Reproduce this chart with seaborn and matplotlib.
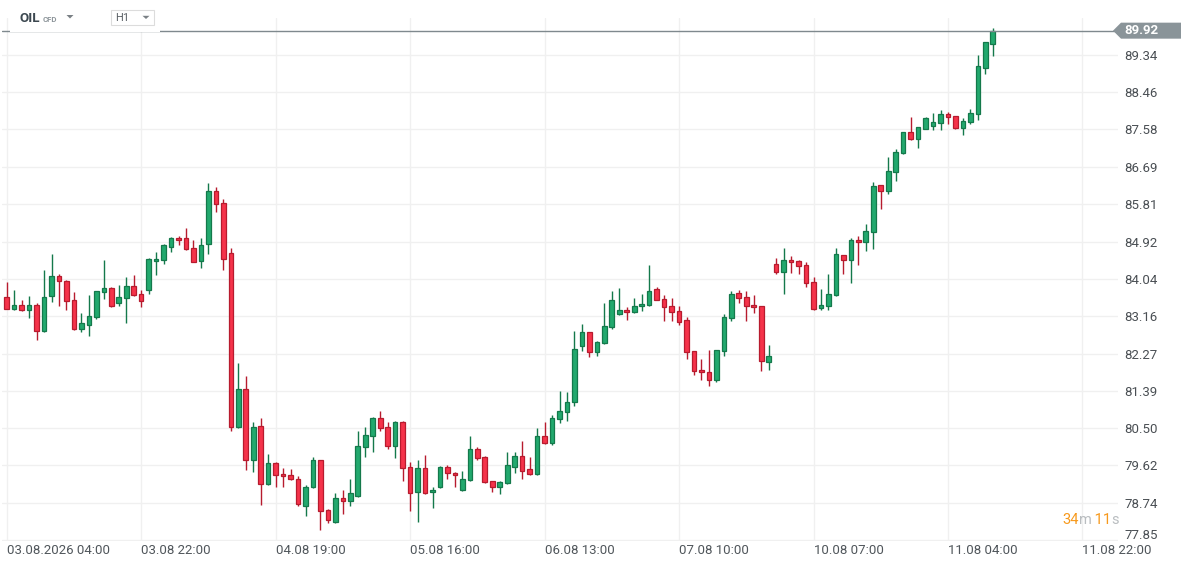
import numpy as np
import pandas as pd
import matplotlib
matplotlib.use("Agg")
import matplotlib.pyplot as plt
from matplotlib.patches import Polygon, Rectangle
from matplotlib.transforms import IdentityTransform
import seaborn as sns

# hourly OHLC bars, OIL CFD (H1)
OPEN = [83.60, 83.33, 83.41, 83.30, 83.41, 82.80, 83.63, 84.10, 84.00, 83.53,
        82.85, 82.94, 83.13, 83.72, 83.82, 83.46, 83.58, 83.86, 83.68, 83.77,
        84.46, 84.48, 84.79, 85.00, 85.00, 84.77, 84.46, 84.86, 86.12, 85.83,
        84.65, 80.52, 81.42, 79.76, 80.55, 79.17, 79.67, 79.41, 79.39, 79.31,
        78.67, 79.10, 79.74, 78.56, 78.29, 78.86, 78.77, 78.90, 80.05, 80.31,
        80.74, 80.52, 80.07, 80.66, 79.58, 78.98, 79.55, 78.98, 79.12, 79.58,
        79.43, 79.03, 79.27, 80.00, 79.81, 79.24, 79.10, 79.20, 79.58, 79.84,
        79.53, 79.41, 80.31, 80.14, 80.71, 80.88, 81.12, 82.44, 82.77, 82.30,
        82.51, 82.89, 83.20, 83.30, 83.25, 83.39, 83.41, 83.79, 83.56, 83.39,
        83.27, 83.06, 82.32, 81.87, 81.83, 81.64, 82.32, 83.11, 83.70, 83.60,
        83.41, 83.39, 82.06, 84.39, 84.20, 84.48, 84.46, 84.36, 83.96, 83.34,
        83.39, 83.65, 84.60, 84.48, 84.96, 84.91, 85.14, 86.26, 86.12, 86.57,
        87.02, 87.51, 87.35, 87.59, 87.66, 87.73, 87.94, 87.89, 87.61, 87.75,
        87.94, 89.03, 89.60]
HIGH = [83.97, 83.78, 83.54, 83.63, 83.46, 84.25, 84.63, 84.16, 84.01, 83.73,
        83.22, 83.65, 83.76, 84.49, 83.84, 83.89, 84.08, 84.13, 83.77, 84.53,
        84.67, 84.86, 85.03, 85.05, 85.24, 84.96, 85.00, 86.31, 86.21, 85.93,
        84.77, 82.04, 81.74, 80.65, 80.74, 79.88, 79.69, 79.55, 79.53, 79.36,
        79.15, 79.81, 79.76, 78.58, 78.96, 79.03, 79.31, 80.44, 80.52, 80.76,
        80.91, 80.64, 80.67, 80.67, 79.69, 79.76, 79.86, 79.10, 79.60, 79.62,
        79.46, 79.48, 80.31, 80.05, 79.84, 79.25, 79.24, 79.93, 79.93, 80.19,
        79.81, 80.50, 80.64, 80.81, 81.38, 81.35, 82.81, 82.96, 82.78, 82.56,
        83.46, 83.75, 83.82, 83.37, 83.58, 83.68, 84.36, 83.84, 83.65, 83.58,
        83.39, 83.13, 82.33, 82.14, 82.35, 82.36, 83.20, 83.75, 83.77, 83.75,
        83.65, 83.40, 82.47, 84.53, 84.77, 84.58, 84.48, 84.43, 84.08, 83.79,
        84.15, 84.77, 84.61, 85.00, 85.05, 85.33, 86.33, 86.27, 86.92, 87.11,
        87.52, 87.87, 87.64, 87.87, 87.97, 88.04, 87.99, 87.90, 87.85, 88.06,
        89.34, 89.66, 89.98]
LOW = [83.32, 83.30, 83.29, 83.12, 82.60, 82.78, 83.49, 83.40, 83.31, 82.84,
       82.77, 82.69, 83.10, 83.56, 83.38, 83.40, 83.00, 83.64, 83.37, 83.69,
       84.12, 84.39, 84.67, 84.84, 84.73, 84.43, 84.29, 84.62, 85.63, 84.24,
       80.44, 80.51, 79.52, 79.47, 78.69, 79.16, 79.10, 79.10, 79.28, 78.67,
       78.43, 79.09, 78.10, 78.25, 78.26, 78.48, 78.67, 78.88, 79.81, 79.95,
       80.43, 80.00, 79.79, 79.24, 78.53, 78.29, 78.94, 78.60, 79.08, 79.29,
       79.12, 79.01, 79.26, 79.76, 79.21, 78.98, 78.94, 79.19, 79.43, 79.29,
       79.39, 79.40, 80.13, 80.10, 80.62, 80.67, 81.04, 82.34, 82.18, 82.21,
       82.50, 82.85, 83.18, 83.06, 83.24, 83.27, 83.39, 83.53, 83.04, 83.04,
       82.94, 82.14, 81.76, 81.64, 81.50, 81.59, 82.21, 83.04, 83.46, 83.04,
       83.22, 81.85, 81.87, 84.15, 83.68, 84.17, 84.15, 83.84, 83.31, 83.31,
       83.31, 83.64, 84.15, 83.94, 84.36, 84.69, 84.74, 85.69, 86.05, 86.35,
       86.99, 87.34, 87.14, 87.58, 87.56, 87.56, 87.70, 87.60, 87.44, 87.70,
       87.80, 88.89, 89.32]
CLOSE = [83.33, 83.41, 83.30, 83.41, 82.80, 83.60, 84.10, 83.98, 83.51, 82.85,
         82.99, 83.15, 83.75, 83.82, 83.39, 83.60, 83.86, 83.65, 83.51, 84.50,
         84.50, 84.84, 85.00, 84.96, 84.74, 84.43, 84.84, 86.12, 85.81, 84.50,
         80.52, 81.42, 79.74, 80.52, 79.17, 79.67, 79.39, 79.36, 79.29, 78.71,
         79.12, 79.74, 78.53, 78.32, 78.86, 78.77, 78.96, 80.07, 80.33, 80.74,
         80.50, 80.07, 80.66, 79.55, 78.96, 79.55, 78.96, 79.03, 79.58, 79.43,
         79.39, 79.29, 80.00, 79.79, 79.22, 79.10, 79.22, 79.62, 79.84, 79.50,
         79.41, 80.31, 80.14, 80.74, 80.90, 81.12, 82.37, 82.77, 82.30, 82.54,
         82.92, 83.53, 83.30, 83.25, 83.39, 83.44, 83.75, 83.53, 83.37, 83.25,
         83.01, 82.30, 81.85, 81.83, 81.64, 82.35, 83.13, 83.68, 83.58, 83.39,
         83.37, 82.09, 82.21, 84.20, 84.48, 84.43, 84.34, 83.94, 83.32, 83.41,
         83.68, 84.62, 84.48, 84.96, 84.91, 85.17, 86.23, 86.12, 86.59, 87.04,
         87.51, 87.35, 87.63, 87.85, 87.75, 87.94, 87.87, 87.61, 87.78, 87.97,
         89.08, 89.65, 89.92]

TIME_LABELS = ["03.08.2026 04:00", "03.08 22:00", "04.08 19:00", "05.08 16:00",
               "06.08 13:00", "07.08 10:00", "10.08 07:00", "11.08 04:00",
               "11.08 22:00"]
PRICE_TICKS = [89.34, 88.46, 87.58, 86.69, 85.81, 84.92, 84.04, 83.16,
               82.27, 81.39, 80.50, 79.62, 78.74, 77.85]
LAST_PRICE = 89.92
SYMBOL = "OIL"
SYMBOL_TYPE = "CFD"
TIMEFRAME = "H1"
COUNTDOWN = [("34", "orange"), ("m", "gray"), (" 11", "orange"), ("s", "gray")]

BARS_PER_LABEL = 18
W, H = 1184, 565

UP_FILL, UP_EDGE = "#22a96e", "#14794b"
DN_FILL, DN_EDGE = "#f5334a", "#b71b2e"
TEXT = "#4a4f54"

sns.set_theme(style="white")
plt.rcParams["font.family"] = ["Roboto", "DejaVu Sans"]

df = pd.DataFrame({"open": OPEN, "high": HIGH, "low": LOW, "close": CLOSE})
df["bar"] = np.arange(len(df))
df["up"] = df["close"] >= df["open"]


def px(x, y):
    # pixel position (from top-left) -> figure fraction
    return x / W, 1 - y / H


fig = plt.figure(figsize=(W / 100, H / 100), dpi=100)
fig.patch.set_facecolor("white")
ax = fig.add_axes([2 / W, 1 - 541 / H, (1118 - 2) / W, (541 - 18) / H])

edge = np.where(df["up"], UP_EDGE, DN_EDGE)
fill = np.where(df["up"], UP_FILL, DN_FILL)
ax.vlines(df["bar"], df["low"], df["high"], colors=edge, linewidth=1.0, zorder=2)
bottom = df[["open", "close"]].min(axis=1)
height = (df["close"] - df["open"]).abs().clip(lower=0.04)
ax.bar(df["bar"], height, bottom=bottom, width=0.62, color=fill,
       edgecolor=edge, linewidth=0.9, zorder=3)

ax.set_xlim(-0.63, 148.76)
ax.set_ylim(77.83, 90.22)

ax.set_xticks(np.arange(len(TIME_LABELS)) * BARS_PER_LABEL)
ax.set_xticklabels(TIME_LABELS, ha="left")
ax.set_yticks(PRICE_TICKS)
ax.set_yticklabels([f"{v:.2f}" for v in PRICE_TICKS[:-1]] + [""])
ax.yaxis.tick_right()
ax.tick_params(axis="x", length=0, pad=2, labelsize=9.5, labelcolor="#50565b")
ax.tick_params(axis="y", length=0, pad=4.5, labelsize=9.5, labelcolor=TEXT)
ax.grid(True, color="#f0f0f0", linewidth=1)
ax.set_axisbelow(True)
for s in ax.spines.values():
    s.set_visible(False)
ax.set_xlabel("")
ax.set_ylabel("")

# lowest price label sits a little above its grid line
ax.annotate(f"{PRICE_TICKS[-1]:.2f}", xy=(1.0, PRICE_TICKS[-1]),
            xycoords=("axes fraction", "data"), xytext=(4.5, 3),
            textcoords="offset points", ha="left", va="center",
            fontsize=9.5, color=TEXT, annotation_clip=False)

# last price line and tag
ax.axhline(LAST_PRICE, color="#7f898e", linewidth=1, zorder=4)
fig.canvas.draw()
yd = ax.transData.transform((0, LAST_PRICE))[1]
tag = Polygon([(1113, yd), (1121, yd + 8), (1181, yd + 8), (1181, yd - 8),
               (1121, yd - 8)], closed=True, facecolor="#8a9499",
              edgecolor="none", transform=IdentityTransform(), zorder=6)
fig.patches.append(tag)
fig.text(1124 / W, yd / H, f"{LAST_PRICE:.2f}", color="white", fontsize=9.5,
         fontweight="bold", va="center", ha="left", zorder=7)

# header
fig.patches.append(Rectangle(px(10, 32), 150 / W, 32 / H, transform=fig.transFigure,
                             facecolor="white", edgecolor="none", zorder=5))
fig.text(*px(20, 18.5), SYMBOL, fontsize=9.6, fontweight="bold", color="#3c4850",
         va="center", ha="left", zorder=6)
fig.text(*px(42.5, 19.6), SYMBOL_TYPE, fontsize=5.6, fontweight="bold",
         color="#8d959a", va="center", ha="left", zorder=6)
fig.patches.append(Polygon([px(66.5, 15), px(73.5, 15), px(70, 18.5)],
                           transform=fig.transFigure, facecolor="#7a8085",
                           edgecolor="none", zorder=6))
fig.patches.append(Rectangle(px(110.5, 25), 43 / W, 15 / H, transform=fig.transFigure,
                             facecolor="white", edgecolor="#dcdcdc", linewidth=0.8,
                             zorder=6))
fig.text(*px(115, 17.8), TIMEFRAME, fontsize=8, color="#5a6065", va="center",
         ha="left", zorder=7)
fig.patches.append(Polygon([px(142.5, 15.8), px(149.5, 15.8), px(146, 19)],
                           transform=fig.transFigure, facecolor="#7a8085",
                           edgecolor="none", zorder=7))

# candle countdown
renderer = fig.canvas.get_renderer()
xpos = 1062
for part, kind in COUNTDOWN:
    col = "#f7991c" if kind == "orange" else "#b9bdc0"
    t = fig.text(xpos / W, 1 - 520 / H, part, fontsize=10.5, color=col,
                 va="center", ha="left", zorder=6)
    xpos = t.get_window_extent(renderer).x1

fig.savefig("out.png", dpi=100, facecolor="white")
